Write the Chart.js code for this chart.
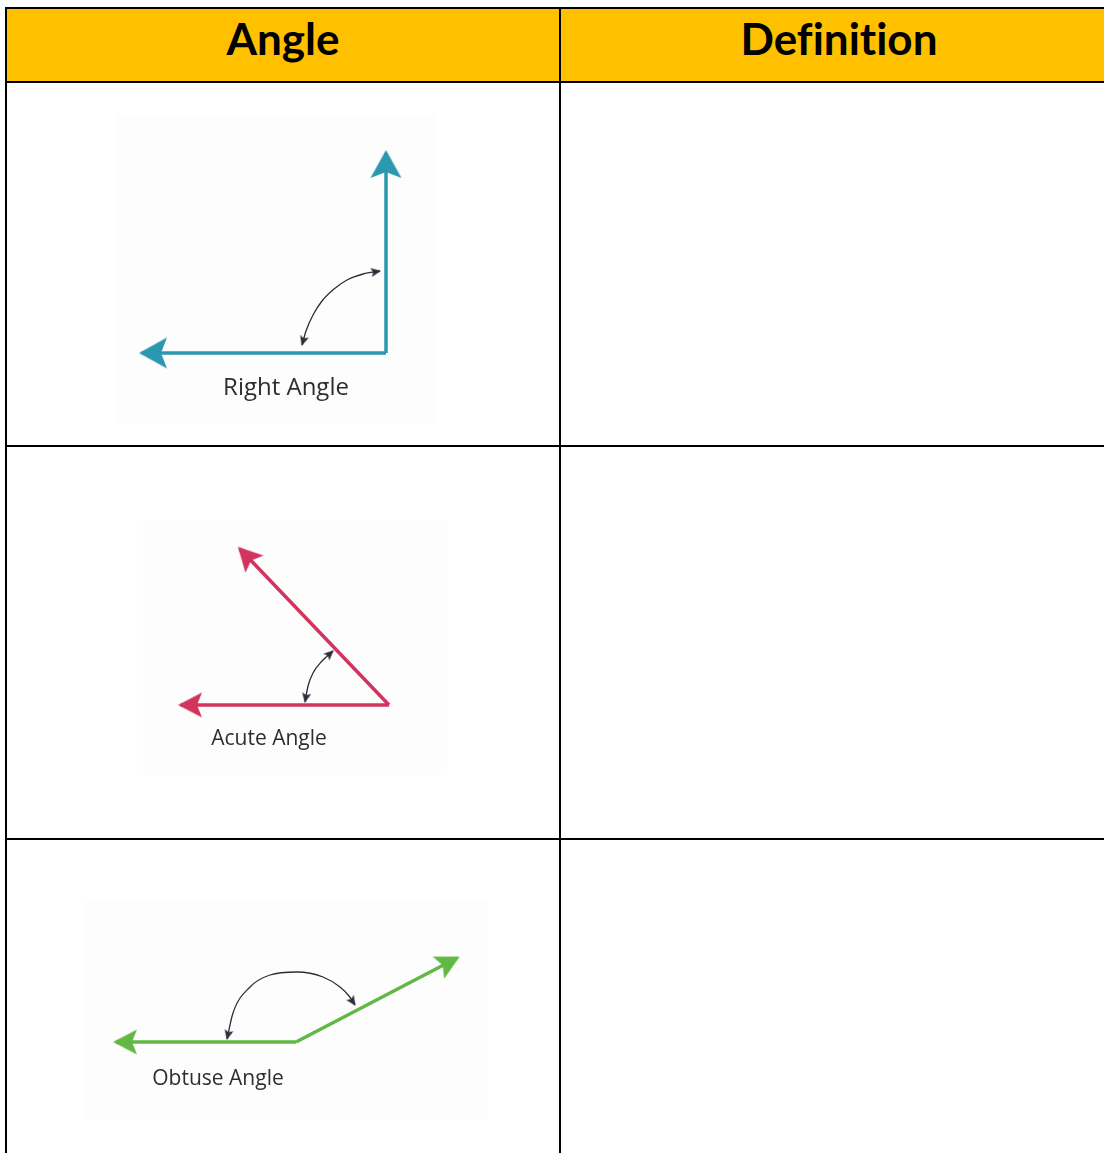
<!DOCTYPE html>
<html>
<head>
<meta charset="utf-8">
<script src="https://cdn.jsdelivr.net/npm/chart.js@4.4.1/dist/chart.umd.min.js"></script>
<style>
html, body { margin: 0; padding: 0; background: #fff; overflow: hidden; }
body { width: 1104px; height: 1153px; position: relative; }
.cell { position: absolute; box-sizing: border-box; border: 2px solid #000; }
.head { background: #FFC000; font-family: Lato, sans-serif; font-weight: bold; font-size: 44px;
        line-height: 58px; text-align: center; color: #000; font-variant-ligatures: none; }
.fig { position: absolute; background: #fdfdfd; }
</style>
</head>
<body>
<div class="cell head" style="left:5px;top:7px;width:556px;height:76px;">Angle</div>
<div class="cell head" style="left:559px;top:7px;width:560px;height:76px;">Definition</div>
<div class="cell" style="left:5px;top:81px;width:556px;height:366px;"></div>
<div class="cell" style="left:559px;top:81px;width:560px;height:366px;"></div>
<div class="cell" style="left:5px;top:445px;width:556px;height:395px;"></div>
<div class="cell" style="left:559px;top:445px;width:560px;height:395px;"></div>
<div class="cell" style="left:5px;top:838px;width:556px;height:400px;"></div>
<div class="cell" style="left:559px;top:838px;width:560px;height:400px;"></div>

<canvas id="rightChart" class="fig" style="left:117px;top:115px;" width="320" height="309"></canvas>
<canvas id="acuteChart" class="fig" style="left:143px;top:520px;" width="304" height="255"></canvas>
<canvas id="obtuseChart" class="fig" style="left:82px;top:902px;" width="405" height="218"></canvas>

<script>
// angle names (labels under each figure)
const angleNames = ['Right Angle', 'Acute Angle', 'Obtuse Angle'];

const rightRayA = [{x: 0, y: 0}, {x: 0, y: 200}];
const rightRayB = [{x: 0, y: 0}, {x: -244, y: 0}];
const rightArc  = [{x: -84, y: 8}, {x: -80, y: 22}, {x: -73, y: 38}, {x: -64, y: 52},
                   {x: -52, y: 64}, {x: -39, y: 73}, {x: -23, y: 79}, {x: -6, y: 82}];

const acuteRayA = [{x: 0, y: 0}, {x: -149, y: 156}];
const acuteRayB = [{x: 0, y: 0}, {x: -208, y: 0}];
const acuteArc  = [{x: -84, y: 3}, {x: -81, y: 19}, {x: -76, y: 32}, {x: -67, y: 44}, {x: -56, y: 54}];

const obtuseRayA = [{x: 0, y: 0}, {x: 161, y: 84}];
const obtuseRayB = [{x: 0, y: 0}, {x: -180, y: 0}];
const obtuseArc  = [{x: -69, y: 3}, {x: -63, y: 29}, {x: -46, y: 55}, {x: -26, y: 67}, {x: 1, y: 70},
                    {x: 27, y: 65}, {x: 44, y: 55}, {x: 53, y: 46}, {x: 59, y: 37}];

// filled barbed arrow head, tip sits a little past the canvas centre
function makeArrow(len, width, notch, color, over) {
    const c = document.createElement('canvas');
    const half = len + over + 1;
    c.width = half * 2; c.height = width + 2;
    const g = c.getContext('2d');
    const tip = half + over, back = tip - len, mid = c.height / 2;
    g.fillStyle = color;
    g.beginPath();
    g.moveTo(tip, mid);
    g.lineTo(back, 1);
    g.lineTo(back + notch, mid);
    g.lineTo(back, c.height - 1);
    g.closePath();
    g.fill();
    return c;
}

// rotation follows the last (or first) segment, in pixel space
function endRotation(ctx) {
    const d = ctx.dataset.data, i = ctx.dataIndex;
    const j = i === 0 ? 1 : i - 1;
    const xs = ctx.chart.scales.x, ys = ctx.chart.scales.y;
    const dx = xs.getPixelForValue(d[i].x) - xs.getPixelForValue(d[j].x);
    const dy = ys.getPixelForValue(d[i].y) - ys.getPixelForValue(d[j].y);
    return Math.atan2(dy, dx) * 180 / Math.PI;
}

const labelPlugin = {
    id: 'angleLabel',
    afterDatasetsDraw(chart, args, opts) {
        const {ctx, scales: {x, y}} = chart;
        ctx.save();
        ctx.font = opts.font;
        ctx.fillStyle = '#2e2e2e';
        ctx.textAlign = 'center';
        ctx.textBaseline = 'alphabetic';
        ctx.fillText(opts.text, x.getPixelForValue(opts.x), y.getPixelForValue(opts.y));
        ctx.restore();
    }
};

function rayDataset(data, color, arrow) {
    return {
        data, borderColor: color, borderWidth: 3.5, showLine: true, clip: false,
        borderCapStyle: 'butt', borderJoinStyle: 'miter',
        pointStyle: arrow,
        pointRadius: c => c.dataIndex === c.dataset.data.length - 1 ? 4 : 0,
        pointRotation: endRotation
    };
}

function arcDataset(data, arrow) {
    return {
        data, borderColor: '#2b2e38', borderWidth: 1.3, showLine: true, clip: false,
        cubicInterpolationMode: 'monotone',
        pointStyle: arrow,
        pointRadius: c => (c.dataIndex === 0 || c.dataIndex === c.dataset.data.length - 1) ? 3 : 0,
        pointRotation: endRotation
    };
}

function drawAngle(id, rays, arc, color, head, range, label) {
    const big = makeArrow(head[0], head[1], head[2], color, 3);
    const small = makeArrow(10, 9, 2, '#2b2e38', 1);
    new Chart(document.getElementById(id), {
        type: 'scatter',
        data: { datasets: [arcDataset(arc, small), ...rays.map(r => rayDataset(r, color, big))] },
        options: {
            responsive: false, devicePixelRatio: 1, animation: false, events: [],
            layout: { padding: 0, autoPadding: false },
            scales: {
                x: { type: 'linear', display: false, min: range[0], max: range[1] },
                y: { type: 'linear', display: false, min: range[2], max: range[3] }
            },
            plugins: { legend: { display: false }, tooltip: { enabled: false }, angleLabel: label }
        },
        plugins: [labelPlugin]
    });
}

drawAngle('rightChart', [rightRayA, rightRayB], rightArc, '#2a98ae', [28, 31, 6],
    [-269, 51, -71, 238], {text: angleNames[0], x: -100, y: -42, font: '24px "Open Sans"'});
drawAngle('acuteChart', [acuteRayA, acuteRayB], acuteArc, '#d1345c', [24, 25, 5],
    [-246, 58, -70, 185], {text: angleNames[1], x: -120, y: -40, font: '21px "Open Sans"'});
drawAngle('obtuseChart', [obtuseRayA, obtuseRayB], obtuseArc, '#62b845', [24, 25, 5],
    [-214, 191, -78, 140], {text: angleNames[2], x: -78, y: -43, font: '21px "Open Sans"'});
</script>
</body>
</html>
